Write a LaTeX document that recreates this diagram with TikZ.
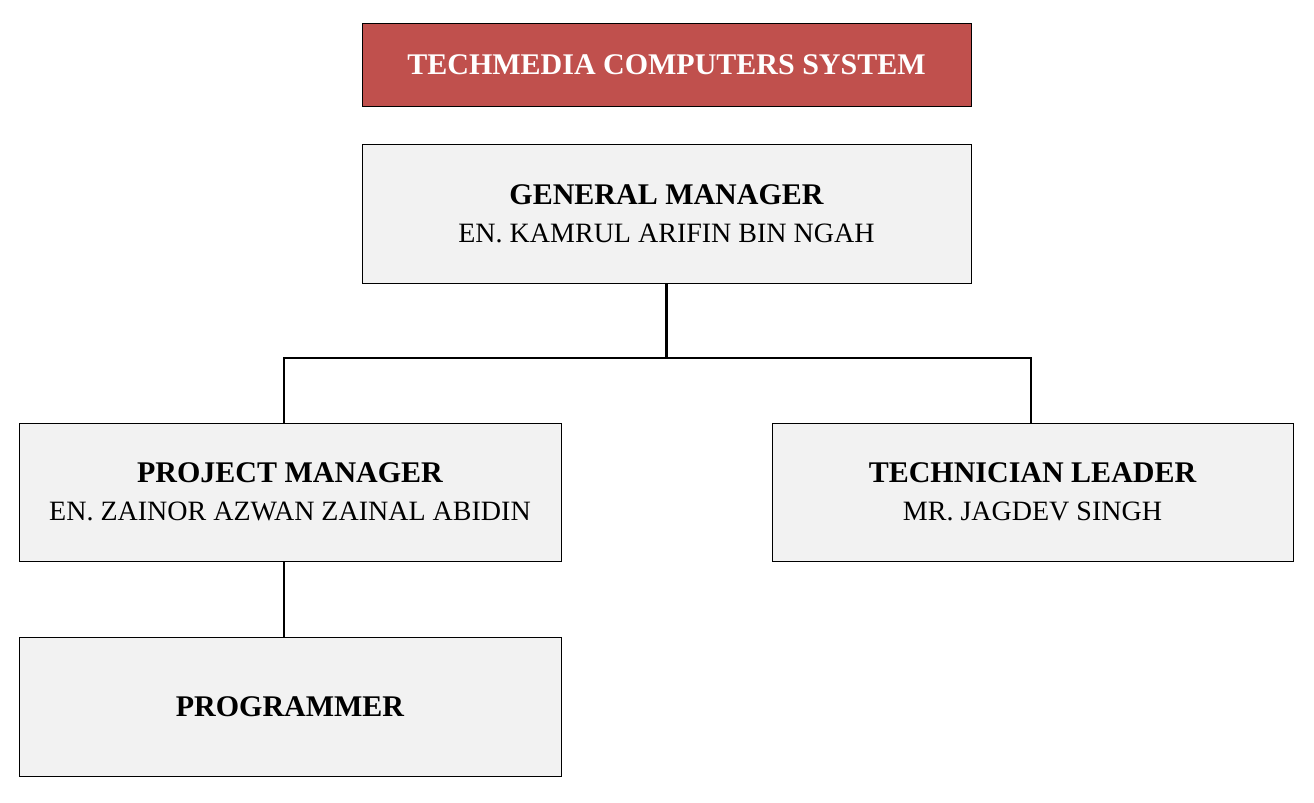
\documentclass[tikz,border=0pt]{standalone}
\usepackage{fontspec}
\setmainfont{Liberation Serif}
\usetikzlibrary{positioning}

\definecolor{headred}{HTML}{C0504D}
\definecolor{boxgrey}{HTML}{F2F2F2}

\tikzset{
    box/.style={draw=black, line width=0.5pt, fill=boxgrey, inner sep=0pt, align=center,
        font=\fontsize{17.07pt}{21.6pt}\selectfont},
    link/.style={line width=1.2pt}
}
\newcommand{\who}[1]{\\\fontsize{15.94pt}{21.6pt}\selectfont #1}

\begin{document}
\begin{tikzpicture}
    \useasboundingbox (0, 0) rectangle (26.28, 16.04);

    \coordinate (T) at (13.33, 14.75);
    \coordinate (G) at (13.33, 11.77);
    \coordinate (P) at (5.80, 6.20);
    \coordinate (L) at (20.65, 6.20);
    \coordinate (R) at (5.80, 1.91);

    \node[box, fill=headred, text=white, minimum width=12.18cm, minimum height=1.66cm] (company) at (T)
        {\bfseries TECHMEDIA COMPUTERS SYSTEM};
    \node[box, minimum width=12.18cm, minimum height=2.78cm] (gm) at (G)
        {\bfseries GENERAL MANAGER\who{EN. KAMRUL ARIFIN BIN NGAH}};
    \node[box, minimum width=10.84cm, minimum height=2.76cm] (pm) at (P)
        {\bfseries PROJECT MANAGER\who{EN. ZAINOR AZWAN ZAINAL ABIDIN}};
    \node[box, minimum width=10.42cm, minimum height=2.76cm] (tl) at (L)
        {\bfseries TECHNICIAN LEADER\who{MR. JAGDEV SINGH}};
    \node[box, minimum width=10.84cm, minimum height=2.78cm] (prog) at (R)
        {\bfseries PROGRAMMER};

    \draw[link] (gm.south) -- ++(0, -1.5);
    \draw[link] ([xshift=-1.2mm]pm.north) |- ([yshift=-1.5cm]gm.south) -| ([xshift=-0.3mm]tl.north);
    \draw[link] ([xshift=-1.2mm]pm.south) -- ([xshift=-1.2mm]prog.north);
\end{tikzpicture}
\end{document}
